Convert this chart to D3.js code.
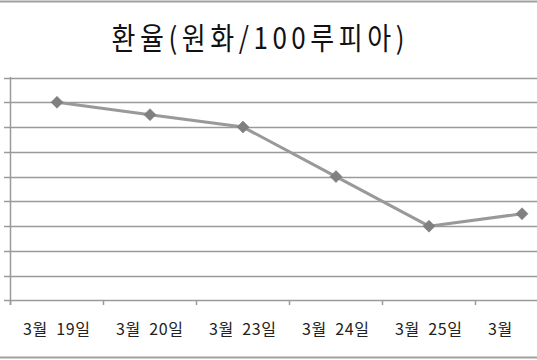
<!DOCTYPE html>
<html><head><meta charset="utf-8">
<script src="https://cdn.jsdelivr.net/npm/d3@7"></script>
<style>body{margin:0;background:#fff}svg{display:block}text{font-family:"Noto Sans CJK KR",sans-serif}</style>
</head><body>
<script>
const categories = ["3월 19일","3월 20일","3월 23일","3월 24일","3월 25일","3월 26일"];
const values = [8, 7.5, 7, 5, 3, 3.5];
const yTicks = [0,1,2,3,4,5,6,7,8,9];
const title = "환율(원화/100루피아)";

const W = 537, H = 360;
const svg = d3.select("body").append("svg").attr("width", W).attr("height", H);
svg.append("defs").append("clipPath").attr("id","lblclip").append("rect")
  .attr("x",0).attr("y",300).attr("width",516).attr("height",50);
// outer border lines
svg.append("line").attr("x1",0).attr("x2",W).attr("y1",1.5).attr("y2",1.5).attr("stroke","#a0a0a0").attr("stroke-width",2);
svg.append("line").attr("x1",0).attr("x2",W).attr("y1",357.5).attr("y2",357.5).attr("stroke","#a0a0a0").attr("stroke-width",2);

svg.append("text").attr("transform","translate(258,49) scale(1,1.15)").attr("text-anchor","middle")
  .attr("font-size",26).attr("fill","#111").attr("textLength",293).attr("lengthAdjust","spacing").text(title);

const x = d3.scaleBand().domain(categories).range([10.5, 10.5 + 93*6]);
const y = d3.scaleLinear().domain([0,9]).range([300.5, 77.5]);

const g = svg.append("g");
// gridlines
g.selectAll(".grid").data(yTicks.slice(1)).join("line")
  .attr("x1",4).attr("x2",W).attr("y1",d=>Math.round(y(d))+0.5).attr("y2",d=>Math.round(y(d))+0.5)
  .attr("stroke","#9a9a9a").attr("stroke-width",1.5);
// y axis
g.append("line").attr("x1",10.5).attr("x2",10.5).attr("y1",77).attr("y2",305).attr("stroke","#9a9a9a").attr("stroke-width",1.5);
// x axis
g.append("line").attr("x1",4).attr("x2",W).attr("y1",300.5).attr("y2",300.5).attr("stroke","#9a9a9a").attr("stroke-width",1.5);
g.selectAll(".xt").data(categories).join("line")
  .attr("x1",d=>x(d)).attr("x2",d=>x(d)).attr("y1",300).attr("y2",305)
  .attr("stroke","#9a9a9a").attr("stroke-width",1.5);
g.append("g").attr("clip-path","url(#lblclip)").selectAll(".xl").data(categories).join("text")
  .attr("x",d=>x(d)+x.bandwidth()/2 - 34).attr("y",335)
  .attr("font-size",16).attr("fill","#222")
  .attr("textLength",67).attr("lengthAdjust","spacing")
  .text(d=>d.replace(" ","\u00a0\u00a0"));

const line = d3.line().x((d,i)=>x(categories[i])+x.bandwidth()/2).y(d=>y(d));
g.append("path").datum(values).attr("d",line).attr("fill","none").attr("stroke","#999").attr("stroke-width",3);
g.selectAll(".pt").data(values).join("path")
  .attr("d",d3.symbol(d3.symbolSquare, 72)).attr("transform",(d,i)=>`translate(${x(categories[i])+x.bandwidth()/2},${y(d)}) rotate(45)`)
  .attr("fill","#808080").attr("stroke","#777").attr("stroke-width",0.5);
</script>
</body></html>
